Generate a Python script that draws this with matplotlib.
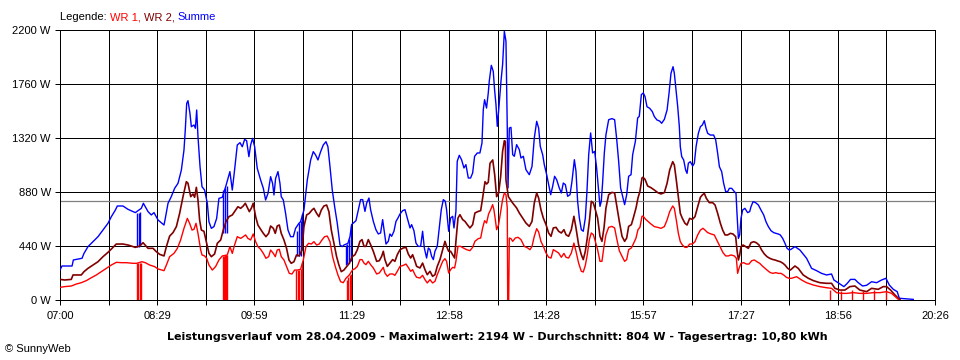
import matplotlib
matplotlib.use("Agg")
import matplotlib.pyplot as plt
import numpy as np

plt.rcParams["font.family"] = ["Liberation Sans", "DejaVu Sans"]

# time in minutes after 07:00, power in W
SPAN_MIN = 806  # 07:00 .. 20:26
TICK_LABELS = ["07:00", "08:29", "09:59", "11:29", "12:58",
               "14:28", "15:57", "17:27", "18:56", "20:26"]
Y_TICKS = [0, 440, 880, 1320, 1760, 2200]
AVG_W = 804

WR1 = [
    (0, 103), (4.3, 109), (10.4, 114), (15.0, 130), (19.6, 141), (24.3, 158), (28.9, 182),
    (33.5, 204), (38.1, 231), (42.7, 258), (47.3, 285), (51.9, 307), (56.5, 304), (61.1, 304),
    (67.2, 299), (70.6, 299), (75.5, 312), (78.6, 304), (82.6, 285), (87.2, 272), (90.3, 253),
    (95.8, 239), (98.0, 285), (101.0, 353), (105.0, 380), (108.1, 421), (111.1, 489),
    (114.2, 584), (117.3, 665), (119.4, 625), (121.6, 570), (123.4, 576), (125.3, 625),
    (127.1, 543), (129.6, 407), (130.8, 367), (133.2, 359), (135.1, 340), (137.2, 285),
    (140.3, 244), (143.3, 272), (146.4, 326), (149.5, 359), (154.1, 367), (156.5, 435),
    (158.7, 380), (160.8, 448), (163.3, 516), (166.4, 502), (168.8, 516), (171.0, 530),
    (173.1, 502), (175.6, 489), (178.0, 538), (180.2, 475), (182.3, 435), (184.8, 413),
    (187.3, 380), (189.7, 340), (192.2, 353), (194.0, 407), (196.5, 380), (198.3, 353),
    (200.1, 407), (202.0, 413), (203.8, 353), (206.3, 326), (208.7, 272), (211.2, 217),
    (213.7, 212), (216.1, 244), (218.6, 244), (221.6, 250), (224.1, 326), (226.6, 435),
    (229.0, 462), (231.5, 456), (233.9, 475), (236.4, 448), (238.8, 456), (241.3, 489),
    (243.7, 516), (246.2, 521), (248.7, 475), (251.1, 353), (253.6, 272), (256.0, 204),
    (258.5, 149), (260.9, 141), (263.4, 177), (266.5, 204), (269.6, 247), (271.7, 255),
    (273.9, 274), (276.3, 329), (278.2, 329), (280.0, 301), (281.8, 288), (284.0, 315),
    (286.1, 288), (288.6, 261), (291.7, 212), (294.1, 220), (296.3, 247), (297.8, 266),
    (299.3, 220), (301.5, 193), (303.9, 212), (306.4, 212), (308.5, 201), (310.7, 234),
    (313.2, 274), (316.2, 282), (318.7, 293), (320.8, 266), (323.0, 234), (324.8, 247),
    (327.0, 206), (328.5, 185), (331.6, 179), (334.0, 201), (336.2, 166), (338.3, 139),
    (340.8, 166), (343.2, 139), (345.4, 152), (347.5, 206), (350.0, 261), (352.5, 315),
    (354.6, 337), (356.1, 315), (358.0, 220), (359.8, 247), (361.7, 266), (363.5, 261),
    (364.7, 315), (366.6, 437), (369.0, 437), (371.5, 424), (374.6, 410), (377.6, 402),
    (380.1, 429), (382.2, 478), (385.3, 500), (387.5, 505), (389.3, 587), (391.1, 646),
    (392.9, 627), (394.8, 701), (396.7, 736), (398.5, 777), (399.7, 736), (401.0, 655),
    (402.2, 573), (404.0, 614), (406.2, 736), (407.7, 818), (409.3, 872), (410.8, 858),
    (412.0, 750), (412.4, 0), (413.3, 0), (413.9, 505), (415.4, 500), (417.0, 478),
    (419.4, 505), (421.9, 511), (424.6, 492), (427.7, 437), (430.8, 424), (432.9, 410),
    (434.8, 437), (436.9, 519), (439.1, 581), (440.9, 554), (443.0, 478), (445.2, 437),
    (447.7, 383), (450.1, 348), (452.3, 342), (454.4, 410), (456.9, 397), (459.3, 383),
    (461.8, 348), (464.2, 380), (466.1, 348), (468.5, 342), (471.0, 383), (473.4, 464),
    (475.3, 397), (477.7, 301), (480.2, 234), (482.0, 228), (483.9, 282), (485.7, 369),
    (487.6, 492), (489.4, 546), (491.3, 532), (493.1, 478), (495.2, 410), (497.4, 315),
    (499.2, 315), (501.1, 437), (502.9, 532), (505.4, 592), (508.4, 600), (510.9, 587),
    (512.7, 505), (515.2, 402), (517.7, 356), (520.1, 315), (522.0, 329), (523.8, 410),
    (526.3, 424), (528.1, 456), (530.6, 505), (532.4, 573), (534.2, 592), (536.1, 682),
    (537.0, 684), (539.5, 657), (542.0, 638), (544.4, 619), (547.5, 598), (550.6, 592),
    (553.6, 584), (556.7, 598), (559.2, 652), (561.6, 720), (564.4, 766), (565.9, 747),
    (567.7, 652), (569.6, 543), (571.4, 475), (573.3, 448), (575.7, 429), (577.6, 429),
    (580.0, 456), (582.5, 456), (584.9, 475), (587.4, 530), (589.9, 570), (592.3, 584),
    (594.1, 570), (596.6, 549), (599.7, 538), (602.7, 530), (605.8, 475), (608.3, 429),
    (610.7, 386), (613.2, 359), (615.6, 359), (618.1, 367), (621.2, 359), (623.0, 340),
    (624.2, 217), (625.5, 258), (627.3, 299), (629.8, 304), (632.2, 293), (634.7, 293),
    (637.1, 320), (639.6, 326), (642.0, 312), (644.5, 299), (647.0, 277), (649.4, 258),
    (651.9, 239), (654.3, 223), (656.8, 217), (659.2, 223), (661.7, 217), (664.2, 217),
    (666.6, 204), (669.1, 185), (671.5, 177), (673.9, 177), (678.5, 190), (683.1, 163),
    (687.7, 141), (693.9, 122), (700.0, 109), (706.1, 100), (710.7, 95), (715.3, 60),
    (720.0, 54), (724.6, 54), (730.7, 60), (736.8, 54), (743.0, 54), (749.1, 60),
    (755.3, 60), (761.4, 68), (766.0, 54), (770.0, 22), (772.2, 5),
]

WR2 = [
    (0, 168), (4.3, 163), (10.4, 168), (12.0, 204), (19.6, 204), (22.1, 231), (25.8, 258),
    (30.4, 285), (35.0, 312), (39.6, 353), (44.2, 388), (48.8, 429), (51.9, 456), (58.0, 456),
    (62.6, 448), (69.4, 429), (73.4, 440), (76.5, 467), (81.1, 421), (85.7, 421), (88.7, 394),
    (91.8, 372), (95.8, 359), (98.0, 435), (101.0, 521), (104.1, 549), (107.2, 598),
    (110.2, 706), (113.3, 842), (116.4, 964), (117.9, 951), (120.4, 842), (122.5, 864),
    (124.0, 837), (125.6, 918), (127.1, 815), (128.6, 652), (130.2, 570), (132.6, 560),
    (135.1, 462), (137.2, 380), (139.4, 353), (142.4, 375), (144.9, 462), (148.0, 489),
    (150.4, 570), (152.9, 638), (155.6, 679), (158.7, 693), (161.8, 733), (163.9, 760),
    (166.4, 747), (168.8, 766), (170.7, 788), (172.5, 755), (174.4, 720), (176.2, 747),
    (178.0, 788), (180.2, 679), (182.3, 611), (184.8, 576), (187.3, 543), (189.7, 516),
    (192.2, 543), (194.0, 603), (196.5, 584), (198.3, 543), (200.1, 603), (202.0, 611),
    (203.8, 543), (206.3, 489), (208.7, 421), (210.9, 326), (213.0, 299), (215.5, 312),
    (217.9, 367), (220.4, 359), (222.9, 407), (224.7, 598), (227.2, 693), (229.6, 706),
    (232.1, 733), (233.9, 747), (236.4, 706), (238.5, 679), (240.7, 733), (243.1, 766),
    (245.6, 774), (247.7, 720), (249.9, 570), (252.3, 462), (254.8, 353), (256.9, 285),
    (259.1, 231), (261.5, 244), (264.0, 272), (266.5, 299), (269.2, 353), (271.7, 369),
    (273.9, 410), (276.3, 478), (278.2, 492), (280.0, 437), (281.8, 437), (284.0, 492),
    (286.1, 451), (288.6, 397), (291.7, 315), (294.1, 320), (296.3, 356), (297.8, 397),
    (299.3, 329), (301.5, 274), (303.9, 301), (306.4, 329), (308.5, 315), (310.7, 369),
    (313.2, 410), (316.2, 424), (318.7, 429), (320.8, 375), (323.0, 342), (324.8, 369),
    (327.0, 315), (328.5, 274), (331.6, 261), (334.0, 301), (336.2, 247), (338.3, 206),
    (340.8, 234), (343.2, 193), (345.4, 206), (347.5, 274), (350.0, 329), (352.5, 410),
    (354.6, 478), (356.1, 437), (358.0, 397), (359.8, 397), (361.7, 369), (363.5, 342),
    (364.7, 478), (366.6, 668), (368.4, 695), (370.9, 655), (373.0, 641), (375.2, 614),
    (377.6, 587), (380.1, 614), (382.2, 709), (385.3, 722), (387.5, 728), (389.3, 831),
    (391.5, 964), (393.0, 945), (394.5, 960), (396.1, 1114), (398.6, 1141), (400.4, 1021),
    (402.2, 842), (404.0, 870), (405.9, 1005), (407.7, 1211), (409.3, 1298), (410.2, 1293),
    (410.8, 978), (413.0, 842), (417.0, 790), (420.6, 750), (423.1, 709), (426.2, 668),
    (429.2, 627), (432.3, 600), (434.8, 641), (436.9, 790), (439.1, 872), (440.9, 831),
    (443.0, 736), (445.2, 668), (447.7, 614), (450.1, 546), (452.3, 519), (454.4, 587),
    (456.9, 592), (459.3, 560), (461.8, 546), (464.2, 573), (466.1, 532), (468.5, 519),
    (471.0, 573), (473.4, 682), (475.3, 587), (477.7, 451), (480.2, 369), (482.0, 329),
    (483.9, 397), (485.7, 505), (487.6, 641), (489.4, 804), (491.3, 790), (493.1, 736),
    (495.2, 668), (497.4, 519), (499.2, 478), (501.1, 587), (502.9, 750), (505.4, 858),
    (508.4, 877), (510.9, 872), (512.7, 777), (515.2, 641), (517.7, 519), (520.1, 478),
    (522.0, 505), (523.8, 600), (526.3, 614), (528.1, 668), (530.6, 750), (532.4, 831),
    (534.2, 885), (536.1, 994), (537.0, 1000), (538.9, 983), (541.3, 929), (544.4, 915),
    (547.5, 896), (550.6, 875), (553.6, 864), (556.7, 875), (559.2, 951), (561.6, 1059),
    (564.4, 1127), (565.9, 1100), (567.7, 978), (569.6, 842), (571.4, 706), (573.3, 665),
    (575.7, 625), (577.6, 611), (580.0, 665), (582.5, 657), (584.9, 679), (587.4, 760),
    (589.9, 837), (591.7, 856), (593.5, 869), (595.4, 828), (598.1, 793), (601.2, 793),
    (603.4, 774), (605.8, 706), (608.3, 625), (610.4, 570), (612.6, 530), (615.0, 530),
    (617.5, 543), (619.9, 538), (622.4, 516), (623.6, 407), (624.9, 326), (626.1, 367),
    (627.3, 435), (629.2, 448), (631.6, 435), (634.1, 421), (636.5, 467), (639.0, 475),
    (641.4, 467), (643.9, 448), (646.3, 407), (648.8, 375), (651.3, 353), (653.7, 340),
    (656.2, 331), (658.6, 326), (661.1, 318), (663.5, 312), (666.0, 299), (667.8, 285),
    (670.3, 258), (672.8, 244), (677.0, 277), (680.0, 258), (684.6, 204), (689.3, 177),
    (693.9, 158), (700.0, 141), (706.1, 136), (710.7, 136), (713.8, 95), (718.4, 81),
    (723.0, 81), (727.6, 109), (732.2, 114), (736.8, 81), (743.0, 68), (747.6, 95),
    (753.7, 87), (758.3, 109), (761.4, 109), (765.1, 81), (769.1, 41), (772.2, 14),
    (773.7, 5),
]

SUMME = [
    (0, 244), (1.8, 277), (11.1, 277), (12.3, 326), (20.3, 340), (22.1, 380), (25.8, 435),
    (30.4, 475), (35.0, 516), (39.6, 570), (44.2, 625), (47.3, 679), (51.0, 733), (52.8, 766),
    (58.0, 766), (62.6, 739), (69.4, 712), (74.9, 747), (76.8, 788), (81.1, 720), (84.1, 693),
    (86.6, 712), (90.3, 652), (95.8, 611), (97.0, 665), (99.5, 788), (102.5, 842),
    (105.6, 910), (108.7, 951), (111.8, 1059), (114.2, 1222), (115.4, 1385), (116.7, 1602),
    (117.9, 1624), (119.7, 1521), (121.0, 1412), (123.4, 1426), (124.7, 1399), (125.9, 1548),
    (127.1, 1331), (129.0, 1086), (130.8, 923), (133.2, 896), (135.7, 788), (137.2, 638),
    (139.4, 584), (141.8, 598), (144.3, 665), (146.4, 828), (149.5, 837), (152.6, 923),
    (154.7, 991), (156.5, 1046), (158.7, 896), (160.8, 1059), (163.3, 1263), (165.8, 1282),
    (167.9, 1249), (170.1, 1309), (171.9, 1298), (174.0, 1168), (175.6, 1263), (177.4, 1317),
    (179.3, 1249), (181.7, 1073), (184.8, 978), (187.3, 910), (189.4, 815), (191.6, 869),
    (194.0, 1005), (195.8, 951), (197.1, 856), (198.6, 991), (200.8, 1046), (202.6, 951),
    (203.8, 842), (205.7, 815), (207.8, 706), (210.0, 570), (212.4, 516), (214.9, 516),
    (217.0, 584), (220.1, 625), (221.6, 638), (224.7, 733), (227.8, 978), (230.9, 1141),
    (233.3, 1209), (235.5, 1181), (237.6, 1141), (240.1, 1209), (242.5, 1263), (245.0, 1290),
    (246.8, 1249), (248.7, 1086), (250.8, 896), (253.0, 760), (255.4, 625), (257.9, 448),
    (260.0, 435), (261.6, 448), (265.2, 462), (267.1, 516), (268.6, 614), (270.2, 627),
    (272.6, 646), (274.8, 736), (276.9, 818), (278.8, 818), (280.9, 722), (282.5, 790),
    (284.6, 831), (286.1, 736), (288.6, 641), (291.0, 573), (293.2, 538), (295.3, 546),
    (297.2, 655), (298.7, 560), (300.3, 456), (302.4, 478), (303.9, 538), (305.5, 519),
    (307.6, 560), (309.5, 641), (311.0, 663), (313.2, 701), (315.6, 728), (317.8, 736),
    (319.9, 668), (322.4, 587), (323.9, 614), (326.0, 565), (327.9, 464), (330.0, 437),
    (332.2, 437), (334.0, 560), (335.6, 424), (337.7, 342), (339.3, 424), (340.8, 410),
    (342.3, 356), (343.9, 329), (345.4, 397), (347.5, 437), (349.4, 587), (351.2, 736),
    (353.1, 818), (354.9, 804), (356.1, 736), (358.0, 560), (359.8, 668), (361.7, 682),
    (362.9, 587), (364.7, 722), (365.9, 1130), (367.8, 1179), (369.9, 1143), (372.1, 1076),
    (373.9, 1103), (376.1, 994), (378.2, 994), (380.1, 1035), (381.9, 1171), (384.4, 1198),
    (386.8, 1198), (388.7, 1279), (389.9, 1551), (391.1, 1632), (392.9, 1564), (394.5, 1687),
    (395.4, 1782), (397.3, 1912), (399.1, 1863), (400.3, 1714), (401.6, 1592), (402.8, 1415),
    (404.0, 1537), (406.2, 1782), (407.7, 1918), (409.3, 2189), (410.8, 2108), (412.0, 1401),
    (412.7, 913), (413.9, 1401), (415.4, 1407), (417.0, 1184), (418.5, 1171), (420.6, 1266),
    (423.1, 1225), (424.6, 1157), (426.8, 1171), (429.2, 1062), (432.3, 1021), (434.8, 1089),
    (436.9, 1320), (439.1, 1456), (440.9, 1401), (442.4, 1252), (444.6, 1184), (446.1, 1103),
    (448.3, 1021), (450.1, 940), (452.0, 858), (453.8, 926), (455.6, 1008), (457.5, 980),
    (459.9, 913), (461.8, 872), (463.6, 953), (465.5, 940), (467.6, 845), (469.8, 858),
    (471.6, 967), (473.8, 1143), (475.3, 1048), (476.8, 804), (478.4, 668), (480.2, 573),
    (482.0, 560), (483.9, 668), (485.4, 885), (487.0, 1184), (488.8, 1361), (490.6, 1198),
    (492.5, 1211), (494.3, 1076), (496.2, 885), (497.4, 763), (498.6, 804), (499.8, 953),
    (501.4, 1198), (502.9, 1347), (505.4, 1469), (508.4, 1478), (510.9, 1469), (512.7, 1320),
    (514.6, 1130), (516.4, 913), (518.3, 845), (520.1, 777), (522.0, 858), (523.8, 1008),
    (526.0, 1021), (527.5, 1184), (530.0, 1293), (532.1, 1483), (533.6, 1497), (535.5, 1673),
    (537.3, 1687), (538.9, 1657), (540.7, 1575), (543.2, 1562), (545.6, 1535), (547.5, 1494),
    (549.9, 1467), (552.4, 1458), (554.2, 1440), (556.7, 1472), (559.2, 1548), (561.0, 1684),
    (562.8, 1847), (564.7, 1901), (565.9, 1847), (567.4, 1711), (569.0, 1575), (570.5, 1412),
    (571.4, 1249), (572.7, 1168), (574.5, 1141), (576.3, 1059), (577.6, 1032), (578.8, 1114),
    (580.6, 1127), (582.8, 1092), (584.3, 1114), (585.9, 1249), (588.0, 1358), (589.9, 1412),
    (591.7, 1426), (593.5, 1461), (595.1, 1399), (596.6, 1358), (599.1, 1344), (602.1, 1344),
    (604.0, 1304), (605.8, 1195), (607.4, 1086), (609.5, 1046), (611.3, 951), (613.2, 883),
    (615.0, 883), (616.6, 910), (618.7, 910), (621.2, 883), (622.7, 869), (623.6, 706),
    (624.9, 502), (626.1, 530), (627.3, 665), (628.8, 733), (630.9, 747), (633.4, 712),
    (635.3, 720), (636.5, 760), (638.4, 801), (640.8, 793), (643.3, 774), (645.7, 733),
    (648.2, 693), (650.3, 638), (652.5, 598), (654.9, 565), (657.4, 549), (659.5, 543),
    (661.6, 538), (663.5, 530), (665.7, 502), (667.8, 462), (669.7, 421), (671.8, 407),
    (673.4, 413), (677.0, 435), (681.6, 407), (687.7, 340), (692.3, 258), (696.9, 239),
    (701.5, 217), (706.1, 204), (710.7, 212), (712.9, 163), (715.3, 149), (718.4, 130),
    (722.1, 109), (725.2, 136), (728.2, 168), (732.2, 168), (735.3, 141), (739.3, 114),
    (743.0, 120), (747.6, 149), (752.2, 141), (756.8, 163), (760.8, 177), (763.9, 122),
    (767.6, 87), (771.2, 68), (773.1, 14), (786.0, 5),
]

# short WR 1 outages: (time, level before the drop)
WR1_DROPS = [
    (71.3, 299), (72.2, 299), (73.5, 305), (74.4, 305),
    (149.9, 360), (150.8, 360), (151.7, 363), (152.6, 365), (153.4, 367),
    (217.5, 244), (218.8, 244), (220.3, 247), (221.9, 250), (223.0, 300),
    (264.4, 160), (265.5, 190), (266.8, 204), (267.7, 210),
    (709.2, 80), (719.3, 75), (729.5, 78), (739.6, 75), (749.7, 78), (760.8, 80),
]
# matching dips of the sum: (time, low, high)
SUM_DROPS = [
    (71.2, 435, 712), (72.5, 435, 712), (73.7, 440, 720),
    (150.4, 543, 900), (151.9, 543, 910), (153.4, 550, 930),
    (218.6, 360, 560), (220.1, 360, 625), (221.6, 360, 640), (223.2, 407, 700),
    (263.1, 285, 450), (264.6, 290, 460), (266.5, 300, 500), (268.0, 320, 600),
]

LEGEND = [("Legende: ", "black"), ("WR 1, ", "#ff0000"),
          ("WR 2, ", "#800000"), ("Summe", "#0000ff")]
TITLE = ("Leistungsverlauf vom 28.04.2009 - Maximalwert: 2194 W - "
         "Durchschnitt: 804 W - Tagesertrag: 10,80 kWh")


def main():
    fig = plt.figure(figsize=(9.6, 3.6), dpi=100)
    ax = fig.add_axes([60 / 960, 60 / 360, 875 / 960, 270 / 360])

    major = np.linspace(0, SPAN_MIN, len(TICK_LABELS))
    minor = (major[:-1] + major[1:]) / 2
    ax.set_xlim(0, SPAN_MIN)
    ax.set_ylim(0, Y_TICKS[-1])
    ax.set_xticks(major)
    ax.set_xticklabels(TICK_LABELS)
    ax.set_xticks(minor, minor=True)
    ax.set_yticks(Y_TICKS)
    ax.set_yticklabels([f"{v} W" for v in Y_TICKS])
    ax.tick_params(axis="x", which="both", length=3.6, width=0.72, pad=4.5,
                   labelsize=8, color="black")
    ax.tick_params(axis="y", length=3.6, width=0.72, pad=3, labelsize=8)
    ax.grid(True, which="both", axis="x", color="black", lw=0.72)
    ax.grid(True, which="major", axis="y", color="black", lw=0.72)
    ax.set_axisbelow(True)
    for sp in ax.spines.values():
        sp.set_color("black")
        sp.set_linewidth(0.72)

    ax.axhline(AVG_W, color="#808080", lw=0.9, zorder=1.5)

    t, w = zip(*SUMME)
    ax.plot(t, w, color="#0000ff", lw=1.0, zorder=3)
    dt, dlo, dhi = zip(*SUM_DROPS)
    ax.vlines(dt, dlo, dhi, color="#0000ff", lw=1.0, zorder=3)

    t, w = zip(*WR2)
    ax.plot(t, w, color="#800000", lw=1.2, zorder=4)

    t, w = zip(*WR1)
    ax.plot(t, w, color="#ff0000", lw=1.0, zorder=5)
    dt, dhi = zip(*WR1_DROPS)
    ax.vlines(dt, 0, dhi, color="#ff0000", lw=1.0, zorder=5)

    ax.text(0.5, -0.137, TITLE, transform=ax.transAxes, ha="center",
            va="center", fontsize=8, fontweight="bold", family="DejaVu Sans")
    fig.text(5 / 960, 1 - 349 / 360, "\u00a9 SunnyWeb", fontsize=8, va="center")

    renderer = fig.canvas.get_renderer()
    x = 60 / 960
    for txt, col in LEGEND:
        tx = fig.text(x, 1 - 17 / 360, txt, color=col, fontsize=8, va="center")
        x += tx.get_window_extent(renderer=renderer).width / fig.bbox.width

    fig.savefig("out.png", dpi=100)


if __name__ == "__main__":
    main()
